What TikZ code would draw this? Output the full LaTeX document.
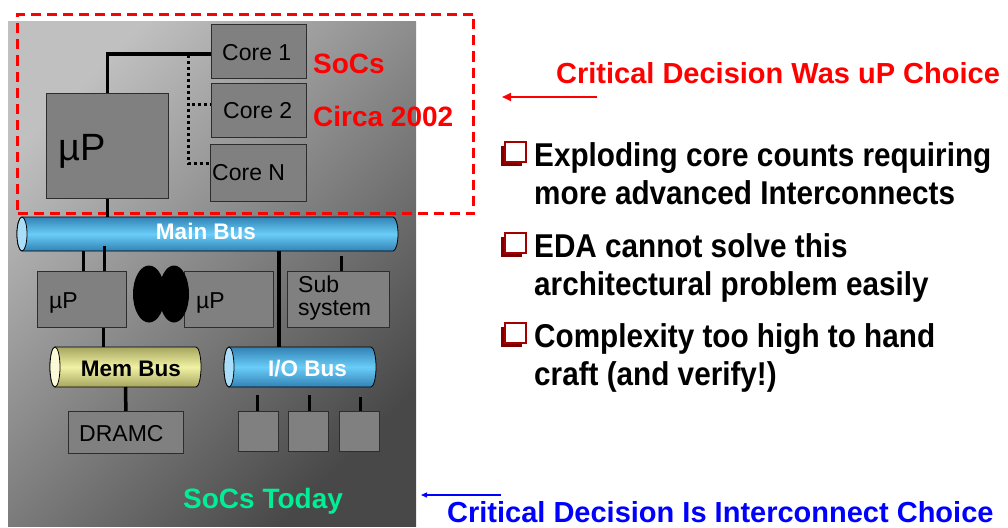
\documentclass[tikz,border=0pt]{standalone}
\usepackage{fontspec}
\setmainfont{Liberation Sans}
\newfontfamily\narrowfont[FakeStretch=0.9]{Liberation Sans}
\usetikzlibrary{arrows.meta,shapes.geometric,shadows,calc}
\definecolor{panelL}{RGB}{192,192,192}
\definecolor{panelD}{RGB}{72,72,72}
\definecolor{boxfill}{RGB}{128,128,128}
\definecolor{boxline}{RGB}{45,45,45}
\definecolor{busedge}{RGB}{50,130,180}
\definecolor{busmid}{RGB}{105,205,248}
\definecolor{busface}{RGB}{170,222,248}
\definecolor{memedge}{RGB}{165,165,95}
\definecolor{memmid}{RGB}{242,242,165}
\definecolor{memface}{RGB}{250,250,215}
\definecolor{socsgreen}{RGB}{0,238,150}
\definecolor{bulletred}{RGB}{165,0,0}
\definecolor{bulletshadow}{RGB}{125,0,0}
\newcommand\fsz[1]{\fontsize{#1}{#1}\selectfont}
% cylinder: x1,y1,x2,y2,edge,mid,face
\newcommand\drawcyl[7]{%
  \pgfmathsetmacro\cylr{(#4-#2)/2}%
  \pgfmathsetmacro\cylc{(#4+#2)/2}%
  \shade[top color=#5, bottom color=#5, middle color=#6, draw=black, line width=0.8pt]
    (#1+5,#2) -- (#3-5,#2) arc[start angle=-90, end angle=90, x radius=5, y radius=\cylr]
    -- (#1+5,#4) arc[start angle=90, end angle=270, x radius=5, y radius=\cylr] -- cycle;
  \filldraw[fill=#7, draw=black, line width=0.8pt] (#1+5,\cylc) ellipse[x radius=5, y radius=\cylr];
}
\begin{document}
\begin{tikzpicture}[x=1pt,y=-1pt,
  box/.style={draw=boxline, fill=boxfill, line width=0.8pt, inner sep=0pt, anchor=north west},
  busgeom/.style={inner sep=0pt, outer sep=0pt, anchor=north west},
  wire/.style={line width=3.5pt, black},
  dotwire/.style={line width=3pt, black, dash pattern=on 3pt off 3pt},
  boxtext/.style={anchor=base west, inner sep=0pt, font=\fsz{23}},
  buslabel/.style={anchor=base, inner sep=0pt, font=\bfseries\fsz{22.5}},
  redtext/.style={anchor=base west, inner sep=0pt, text=red, font=\bfseries\fsz{28}},
  bullettext/.style={anchor=base west, inner sep=0pt, font=\narrowfont\bfseries\fsz{33}},
  bulletbox/.style={draw=bulletred, fill=white, line width=1.3pt, minimum width=21pt, minimum height=20pt, inner sep=0pt,
     drop shadow={shadow xshift=-4pt, shadow yshift=-4pt, fill=bulletshadow, opacity=1}},
  titletext/.style={anchor=base west, inner sep=0pt, font=\bfseries\fsz{29}}
]
\useasboundingbox (0,0) rectangle (1008,527);
\fill[white] (0,0) rectangle (1008,527);

% panel
\shade[top color=panelL, bottom color=panelD, shading angle=45] (8,22) rectangle (416,526);

% dashed SoC box
\node[draw=red, line width=3pt, dash pattern=on 10pt off 6pt, minimum width=456pt, minimum height=199pt, inner sep=0pt, anchor=north west] (socbox) at (16,13) {};

% buses
\drawcyl{17}{217}{398}{251}{busedge}{busmid}{busface}
\node[busgeom, minimum width=381pt, minimum height=34pt] (mainbus) at (17,217) {};
\drawcyl{50}{347}{201}{387}{memedge}{memmid}{memface}
\node[busgeom, minimum width=151pt, minimum height=40pt] (membus) at (50,347) {};
\drawcyl{224}{347}{376}{387}{busedge}{busmid}{busface}
\node[busgeom, minimum width=152pt, minimum height=40pt] (iobus) at (224,347) {};

% boxes
\node[box, minimum width=95pt, minimum height=54pt] (core1) at (211,24) {};
\node[box, minimum width=95pt, minimum height=54pt] (core2) at (211,83) {};
\node[box, minimum width=96pt, minimum height=57pt] (coreN) at (210,144) {};
\node[box, minimum width=122pt, minimum height=105pt] (bigup) at (46,93) {};
\node[box, minimum width=89pt, minimum height=56pt] (lup) at (37,271) {};
\node[box, minimum width=89pt, minimum height=56pt] (mup) at (184,271) {};
\node[box, minimum width=102pt, minimum height=56pt] (sub) at (287,271) {};
\node[box, minimum width=115pt, minimum height=42pt] (dramc) at (68,411) {};
\node[box, minimum width=40pt, minimum height=40pt] (s1) at (238,411) {};
\node[box, minimum width=40pt, minimum height=40pt] (s2) at (288,411) {};
\node[box, minimum width=40pt, minimum height=40pt] (s3) at (339,411) {};

% black ovals
\node[ellipse, fill=black, inner sep=0pt, minimum width=32pt, minimum height=57pt] (ov1) at (149,294) {};
\node[ellipse, fill=black, inner sep=0pt, minimum width=30pt, minimum height=57pt] (ov2) at (174,294) {};

% wires
\draw[wire] (bigup.north) |- ([yshift=-2.5pt]core1.west);
\coordinate (dottop) at (188,55);
\draw[dotwire] (dottop) |- ([yshift=5.5pt]core2.west);
\draw[dotwire] (dottop) |- ([yshift=9.5pt]coreN.west);
\draw[wire] (bigup.south) -- (bigup.south |- mainbus.north);
\coordinate (l1) at ($(lup.north)+(1.5,0)$);
\draw[wire] (l1) -- (l1 |- mainbus.south);
\coordinate (l2) at ($(lup.north)+(22.5,0)$);
\draw[wire] (l2) -- ($(l2 |- mainbus.south)+(0,-5)$);
\coordinate (l3) at ($(lup.south)+(21.5,0)$);
\draw[wire] (l3) -- (l3 |- membus.north);
\coordinate (l4) at ($(iobus.north)+(-21,0)$);
\draw[wire] (l4 |- mainbus.south) -- (l4);
\coordinate (l5) at ($(sub.north)+(3,-15)$);
\draw[wire] (l5) -- (l5 |- sub.north);
\draw[wire] (membus.south) -- (dramc.north);
\coordinate (t1) at ($(s1.north)+(-1,-16)$);
\coordinate (t2) at ($(s2.north)+(1,-16)$);
\coordinate (t3) at ($(s3.north)+(1,-14)$);
\draw[wire] (t1) -- (t1 |- s1.north);
\draw[wire] (t2) -- (t2 |- s2.north);
\draw[wire] (t3) -- (t3 |- s3.north);

% box texts
\node[boxtext] (core1t) at (222,60) {Core 1};
\node[boxtext] (core2t) at (223,118) {Core 2};
\node[boxtext] (coreNt) at (212,180) {Core N};
\node[anchor=base west, inner sep=0pt, font=\fsz{38}] (bigupt) at (58,160) {µP};
\node[boxtext] (lupt) at (49,308) {µP};
\node[boxtext] (mupt) at (196,308) {µP};
\node[boxtext] (subt1) at (298,292) {Sub};
\node[boxtext] (subt2) at (298,315) {system};
\node[boxtext] (dramct) at (79,441) {DRAMC};

% bus labels
\node[buslabel, text=white] (mainbust) at (206,239) {Main Bus};
\node[buslabel, text=black] (membust) at (131,376) {Mem Bus};
\node[buslabel, text=white] (iobust) at (307.5,376) {I/O Bus};

% red labels
\node[redtext] (socs) at (313,73) {SoCs};
\node[redtext] (circa) at (313,126) {Circa 2002};
\node[anchor=base west, inner sep=0pt, text=socsgreen, font=\bfseries\fsz{28}] (today) at (183,508) {SoCs Today};

% titles and arrows
\node[titletext, text=red] (title1) at (556,83) {Critical Decision Was uP Choice};
\coordinate (ra1) at (597,97);
\coordinate (ra2) at (502,97);
\draw[red, line width=2pt, -{Triangle[length=9pt,width=8pt]}] (ra1) -- (ra2);
\node[titletext, text=blue] (title2) at (447,522) {Critical Decision Is Interconnect Choice};
\coordinate (ba1) at (501,495);
\coordinate (ba2) at (421,495);
\draw[blue, line width=1.2pt, -{Triangle[length=6pt,width=5pt]}] (ba1) -- (ba2);

% bullets
\node[bulletbox] (bb1) at (515.5,152) {};
\node[bulletbox] (bb2) at (515.5,243) {};
\node[bulletbox] (bb3) at (515.5,333) {};
\node[bullettext] (bt1a) at (534,166) {Exploding core counts requiring};
\node[bullettext] (bt1b) at (534,204.5) {more advanced Interconnects};
\node[bullettext] (bt2a) at (534,257) {EDA cannot solve this};
\node[bullettext] (bt2b) at (534,295.5) {architectural problem easily};
\node[bullettext] (bt3a) at (534,347) {Complexity too high to hand};
\node[bullettext] (bt3b) at (534,385.5) {craft (and verify!)};
\end{tikzpicture}
\end{document}
